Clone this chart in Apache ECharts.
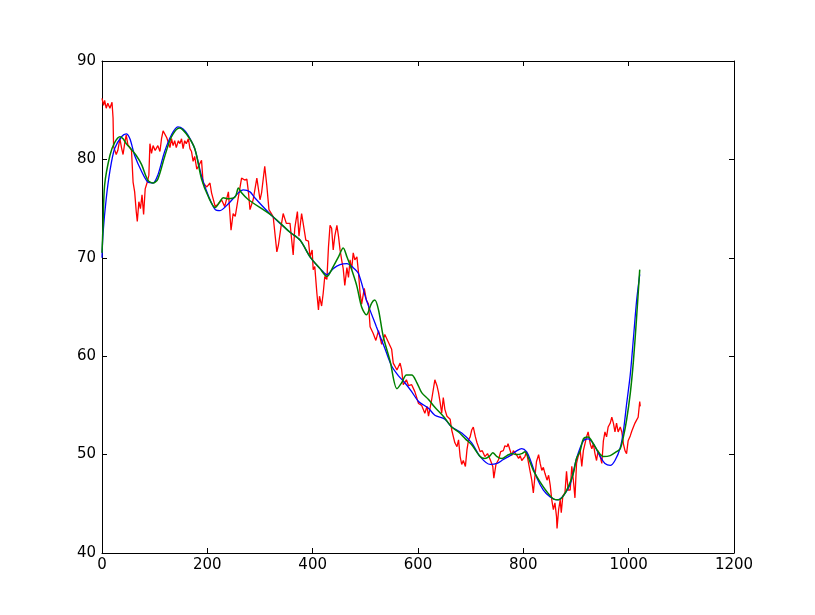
<!DOCTYPE html>
<html>
<head>
<meta charset="utf-8">
<script src="https://cdn.jsdelivr.net/npm/echarts@6/dist/echarts.min.js"></script>
<style>
  html, body { margin: 0; padding: 0; background: #fff; }
  #chart { width: 815px; height: 615px; }
</style>
</head>
<body>
<div id="chart"></div>
<script>
// raw noisy signal, [x, y]
var rawData = [
  [0,86.2],[3,85.5],[5,86],[8,85.2],[11,85.7],[15,85.2],[19,85.8],[21,84.2],[22,81.3],[25,81.5],
  [27,80.5],[30,80.9],[34,82.1],[37,81.2],[40,80.5],[43,81.6],[46,82.5],[49,81.5],[53,81.2],[56,80.9],
  [59,77.7],[62,76.7],[65,74.7],[67,73.7],[70,75.7],[73,75.0],[76,76.4],[79,74.4],[82,77],[86,77.7],
  [89,78.4],[91,81.6],[94,80.6],[97,81.4],[101,80.9],[106,81.4],[110,80.8],[113,82.1],[116,82.9],[119,83.1],
  [123,82.2],[126,82.4],[129,81.2],[132,82.1],[135,81.4],[138,81.9],[141,81.2],[145,81.9],[148,81.6],[151,82.1],
  [154,81.1],[157,81.9],[160,81.6],[164,82.1],[167,81.1],[170,80.8],[173,79.8],[176,80.3],[180,79.0],[183,78.9],
  [189,79.9],[192,77.6],[199,77.2],[205,77.6],[208,76.6],[215,75.2],[221,75.5],[227,75.9],[233,75.2],[240,76.7],
  [245,72.8],[249,74.5],[253,74.2],[259,76.2],[265,78.1],[271,77.9],[275,78],[278,76.7],[281,74.9],[287,75.9],
  [294,78.1],[300,75.9],[303,76.6],[309,79.3],[313,77.3],[317,74.9],[325,74.2],[332,70.6],[335,71.3],[340,73.2],
  [344,74.5],[350,73.5],[357,73.5],[363,70.3],[366,73],[371,74.7],[374,72.2],[379,74.5],[382,73.5],[387,71.8],
  [392,71.7],[395,70.1],[399,70.8],[401,68.8],[404,69.1],[408,66.4],[411,64.7],[413,66.1],[417,65.1],[420,66.4],
  [423,68.1],[427,67.8],[430,71.1],[433,73.3],[436,73],[439,70.8],[442,72.2],[446,73.3],[449,72.2],[452,70.8],
  [455,69.8],[458,68.9],[461,67.2],[465,69],[468,68],[471,69.8],[474,68.8],[477,70.5],[480,69.8],[484,70.1],
  [487,68.5],[490,66.4],[493,65.3],[498,66.9],[502,65.7],[506,65.3],[509,63],[515,62.3],[520,61.6],[525,62.6],
  [531,61.2],[537,62.2],[544,61.4],[550,60.7],[553,59.3],[560,58.6],[566,59.3],[569,58.6],[572,57.1],[578,57.6],
  [582,57.0],[588,57.1],[594,56.4],[601,55.2],[607,55.0],[613,54.2],[617,54.9],[620,53.9],[626,55.6],[632,57.6],
  [636,57],[639,56.3],[642,55.3],[645,54.2],[648,55.8],[651,54.6],[655,53.9],[661,53.6],[664,52.5],[670,51.2],
  [674,50.8],[677,51.5],[680,49.8],[683,49.0],[686,49.4],[690,48.8],[693,50.5],[696,51.5],[699,51.8],[702,52.5],
  [705,52.8],[709,51.8],[712,51.2],[718,50.3],[722,50.4],[727,49.8],[732,50.1],[737,49.5],[742,48.8],[744,47.6],
  [748,49.0],[753,49.5],[757,50.3],[762,50.4],[765,50.9],[769,50.8],[771,51.1],[775,50.4],[778,49.9],[781,50.4],
  [788,49.9],[791,49.6],[794,49.9],[797,49.4],[800,49.3],[803,49.8],[806,50.3],[810,49.1],[816,47.4],[819,46.1],
  [822,47.8],[825,49.3],[829,50.0],[832,49.1],[835,48.4],[838,48.7],[841,48.1],[845,47.4],[848,47.9],[851,46.9],
  [854,45.4],[857,44.4],[860,45.1],[863,43.7],[864,42.5],[867,44.4],[870,45.4],[872,44.1],[875,45.8],[879,46.1],
  [882,48.3],[885,46.4],[889,46.4],[892,48.8],[895,47.4],[898,45.6],[901,49.1],[904,49.8],[908,50.4],[911,48.8],
  [914,50.4],[917,51.1],[920,51.8],[923,52.3],[927,51.1],[930,50.6],[933,51.1],[936,50.1],[939,49.4],[942,50.4],
  [946,49.8],[949,49.1],[952,51.4],[955,52.3],[958,51.8],[961,52.8],[965,53.2],[968,53.8],[971,53.2],[974,52.3],
  [977,53.2],[980,52.3],[984,52.8],[987,52.3],[990,51.1],[993,50.4],[996,50.1],[999,51.4],[1003,51.9],[1006,52.4],
  [1009,52.8],[1012,53.2],[1015,53.5],[1018,53.8],[1021,55.4],[1022,54.9]
];

// smooth fit (blue)
var fitBlue = [
  [0,70],[2,72.5],[8,76.0],[15,78.8],[24,81.1],[37,82.3],[46,82.6],[53,82.1],[62,80.4],[75,78.8],
  [87,77.7],[97,77.6],[106,78.4],[119,80.8],[132,82.5],[144,83.3],[154,83.1],[163,82.5],[176,81.1],[189,78.3],
  [202,76.3],[215,74.9],[224,74.8],[240,75.5],[259,76.6],[268,76.9],[281,76.7],[290,76.1],[322,74.3],[357,72.6],
  [376,71.8],[395,70.1],[414,68.9],[427,68.3],[439,68.9],[452,69.3],[465,69.4],[477,69.0],[487,68.4],[502,65.7],
  [521,63],[537,60.8],[550,59],[563,58],[575,57.3],[588,56.4],[601,55.4],[620,54.7],[632,54.0],[651,53.6],
  [664,52.8],[683,52.2],[702,51.2],[718,49.8],[737,49.0],[750,49.1],[762,49.5],[775,49.9],[788,50.4],[797,50.6],
  [806,50.3],[813,49.5],[826,47.6],[838,46.4],[851,45.7],[864,45.4],[876,45.8],[889,47.0],[901,49.6],[914,51.4],
  [923,51.6],[933,51.1],[946,49.8],[955,49.1],[965,48.9],[974,49.4],[984,50.7],[990,52.4],[996,55.1],[1003,58.1],
  [1009,61.8],[1015,65.6],[1021,68.3]
];

// second fit (green)
var fitGreen = [
  [0,70.5],[2,73.3],[5,77.4],[15,80.4],[24,81.7],[34,82.3],[40,82.1],[46,81.6],[56,81],[65,80.4],
  [75,79.5],[87,77.9],[97,77.6],[106,78],[119,80.3],[132,82.3],[147,83.2],[160,82.6],[176,81.1],[189,78],
  [202,76.2],[215,75.1],[224,75.7],[230,76.1],[240,76.0],[253,76.2],[259,77.1],[265,76.6],[278,75.9],[322,74.3],
  [357,72.6],[376,71.8],[395,70.1],[414,68.9],[427,68.1],[439,69.1],[449,70.1],[458,71.0],[465,70.1],[474,68.8],
  [484,67.1],[493,65.0],[502,64.2],[512,65.4],[518,65.7],[525,64.7],[534,62],[547,59.5],[560,56.7],[569,57.3],
  [578,58.1],[588,58.1],[598,57.3],[607,56.3],[620,55.6],[632,54.8],[648,53.9],[664,52.8],[677,52.3],[690,51.6],
  [702,51.0],[718,49.8],[727,49.6],[737,49.9],[742,50.2],[750,49.8],[759,49.6],[769,49.9],[778,50.1],[788,50],
  [797,50.1],[803,50.3],[810,49.6],[819,48.4],[832,47.2],[845,46.2],[857,45.5],[867,45.4],[876,45.8],[886,46.8],
  [895,48.1],[901,49.6],[908,50.4],[914,51.6],[923,51.8],[933,51.1],[942,50.3],[952,49.8],[965,49.9],[977,50.3],
  [984,50.6],[990,51.8],[996,53.5],[1003,56.2],[1009,59.5],[1015,63.9],[1021,68.8]
];

var font = 'DejaVu Sans';
var chart = echarts.init(document.getElementById('chart'), null, { renderer: 'canvas' });

function frameAxis(pos, showLabel, extra) {
  var a = {
    type: 'value',
    position: pos,
    axisLine: { show: true, onZero: false, lineStyle: { color: '#000', width: 1 } },
    axisTick: { show: true, inside: true, length: 5, lineStyle: { color: '#000' } },
    axisLabel: {
      show: showLabel, color: '#000', fontFamily: font, fontSize: 15,
      margin: (pos === 'left' ? 6 : 5),
      formatter: function(v) { return String(v); }
    },
    splitLine: { show: false }
  };
  for (var k in extra) a[k] = extra[k];
  return a;
}

chart.setOption({
  animation: false,
  backgroundColor: '#fff',
  grid: { left: 102, right: 81, top: 61, bottom: 62 },
  xAxis: [
    frameAxis('bottom', true, { min: 0, max: 1200, interval: 200 }),
    frameAxis('top', false, { min: 0, max: 1200, interval: 200 })
  ],
  yAxis: [
    frameAxis('left', true, { min: 40, max: 90, interval: 10 }),
    frameAxis('right', false, { min: 40, max: 90, interval: 10 })
  ],
  series: [
    {
      type: 'line', data: rawData, showSymbol: false,
      lineStyle: { color: '#ff0000', width: 1.3 }
    },
    {
      type: 'line', data: fitBlue, showSymbol: false, smooth: 0.3,
      lineStyle: { color: '#0000ff', width: 1.3 }
    },
    {
      type: 'line', data: fitGreen, showSymbol: false, smooth: 0.3,
      lineStyle: { color: '#008000', width: 1.5 }
    }
  ]
});
</script>
</body>
</html>
